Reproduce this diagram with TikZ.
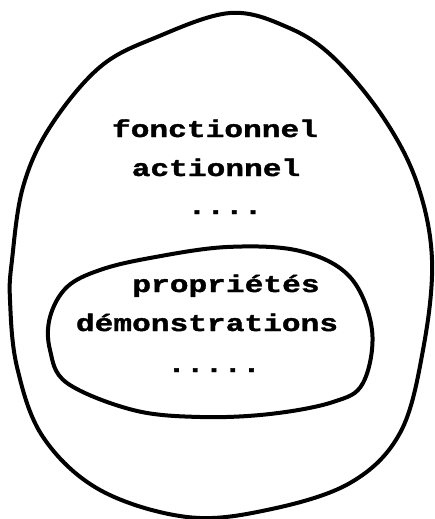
\documentclass[tikz,border=0pt]{standalone}
\usepackage{fontspec}
\newfontfamily\dotmono[FakeStretch=1.3,FakeBold=1.5]{Liberation Mono}
\usepackage{tikz}
\usetikzlibrary{positioning}

\tikzset{
  blob/.style={line width=3pt, line join=round},
  item/.style={font=\dotmono\fontsize{18}{18}\selectfont\bfseries, inner sep=0pt, anchor=base}
}

\begin{document}
\begin{tikzpicture}[x=0.75pt, y=-0.75pt]
  \useasboundingbox (0,0) rectangle (435,519);
  % outer egg
  \draw[blob] plot[smooth cycle, tension=0.6] coordinates {
     (230,13) (287,27) (333,57) (383,117) (417,183) (432,260)
     (423,350) (400,433) (350,483) (267,510) (187,517) (100,490)
     (43,437) (17,367) (10,300) (12,260) (23,187) (50,127)
     (100,67) (157,37)};
  % inner ellipse
  \draw[blob] plot[smooth cycle, tension=0.6] coordinates {
     (227,247) (300,251) (350,277) (372,330) (363,383) (333,402)
     (270,414) (200,417) (133,410) (67,383) (50,350) (50,317)
     (67,287) (100,270) (150,258)};
  % texts
  \node[item] (fonc) at (215,137) {fonctionnel};
  \node[item] (act) at (216,176) {actionnel};
  \node[item] (dotsA) at (225,214) {....};
  \node[item] (prop) at (226,292) {propriétés};
  \node[item] (demo) at (207,331) {démonstrations};
  \node[item] (dotsB) at (214,372) {.....};
\end{tikzpicture}
\end{document}
